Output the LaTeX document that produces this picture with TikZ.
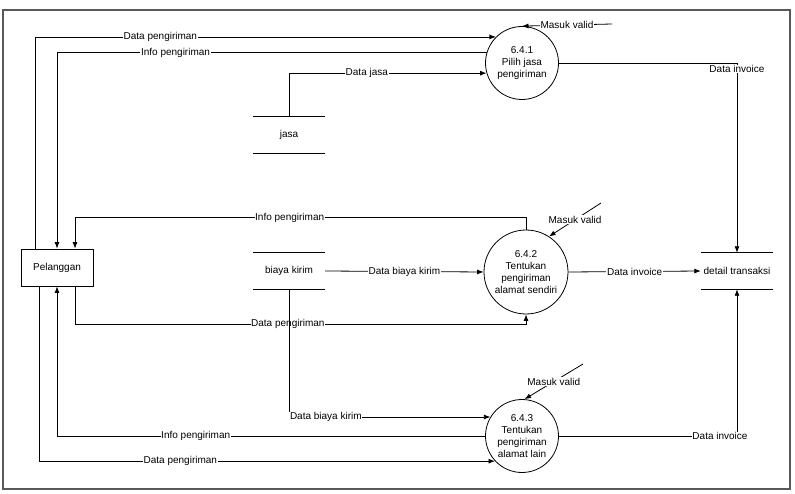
\documentclass[tikz,border=0pt]{standalone}
\usepackage{fontspec}
\setmainfont{Liberation Sans}
\usepackage{tikz}
\usetikzlibrary{arrows.meta, calc, positioning}

\tikzset{
    proses/.style={circle, draw, line width=0.8pt, inner sep=0pt, minimum size=73pt, align=center},
    entitas/.style={rectangle, draw, line width=0.8pt, minimum width=72pt, minimum height=37pt},
    simpan/.style={inner sep=1pt, minimum width=72pt, minimum height=36pt},
    alir/.style={->, line width=0.8pt},
    ket/.style={fill=white, inner sep=0.6pt},
}

\begin{document}
\begin{tikzpicture}[x=1pt, y=-1pt, >={Latex[length=6.5pt, width=5pt]}, font=\fontsize{10}{11.8}\selectfont]
    \useasboundingbox (0,0) rectangle (795,494);
    \draw[black!65, line width=1.2pt] (3,10) rectangle (790,489);

    \node[entitas] (pel) at (57, 267.5) {Pelanggan};
    \node[proses] (p1) at (522, 63) {6.4.1\\Pilih jasa\\pengiriman};
    \node[proses, minimum size=84pt] (p2) at (526, 272) {6.4.2\\Tentukan\\pengiriman\\alamat sendiri};
    \node[proses] (p3) at (522, 436) {6.4.3\\Tentukan\\pengiriman\\alamat lain};
    \node[simpan] (jasa) at (289, 135) {jasa};
    \node[simpan] (biaya) at (289, 271) {biaya kirim};
    \node[simpan] (detail) at (737, 271) {detail transaksi};
    \coordinate (mv1) at (612, 24);
    \coordinate (mv2) at (601, 203);
    \coordinate (mv3) at (583, 364);

    \foreach \st in {jasa, biaya, detail}
        \draw[line width=0.8pt] (\st.north west) -- (\st.north east) (\st.south west) -- (\st.south east);

    \draw[alir] ($(pel.north)+(-22,0)$) |- node[ket, pos=0.636] {Data pengiriman} (p1.135);
    \draw[alir] (p1.164) -| node[ket, pos=0.362] {Info pengiriman} (pel.north);
    \draw[alir] (jasa.north) |- node[ket, pos=0.697] {Data jasa} (p1.196);
    \draw[alir] (mv1) -- node[ket] {Masuk valid} (p1.north);
    \draw[alir] (p1.east) -| node[ket, yshift=-6pt] {Data invoice} (detail.north);

    \draw[alir] (p2.north) -- ++(0,-12) -| node[ket, pos=0.262] {Info pengiriman} ($(pel.north)+(18,0)$);
    \draw[alir] (mv2) -- node[ket] {Masuk valid} (p2.57);
    \draw[alir] (biaya.east) -- node[ket] {Data biaya kirim} (p2.west);
    \draw[alir] (p2.east) -- node[ket] {Data invoice} (detail.west);
    \draw[alir] ($(pel.south)+(18,0)$) |- node[ket, pos=0.736] {Data pengiriman} ($(p2.south)+(0,10)$) -- (p2.south);

    \draw[alir] (biaya.south) |- node[ket, anchor=west] {Data biaya kirim} (p3.149);
    \draw[alir] (p3.west) -| node[ket, pos=0.338] {Info pengiriman} (pel.south);
    \draw[alir] ($(pel.south)+(-18,0)$) |- node[ket, pos=0.655] {Data pengiriman} (p3.223);
    \draw[alir] (mv3) -- node[ket] {Masuk valid} (p3.86);
    \draw[alir] (p3.east) -| node[ket, xshift=-17pt] {Data invoice} (detail.south);
\end{tikzpicture}
\end{document}
